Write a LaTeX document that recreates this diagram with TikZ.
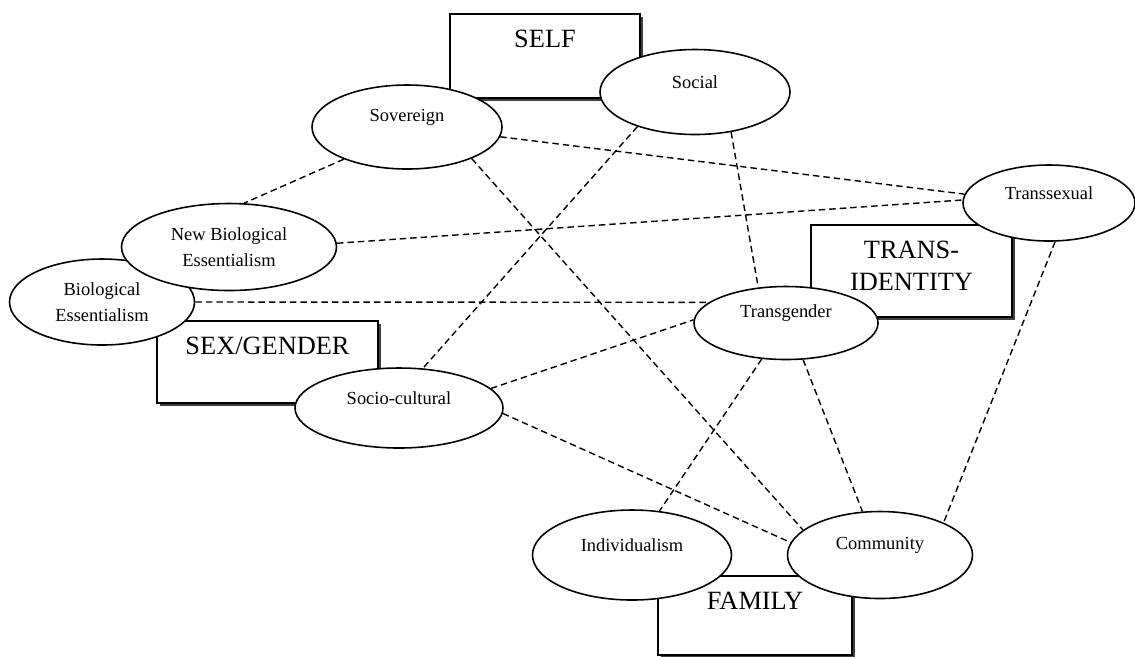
\documentclass[tikz,border=0pt]{standalone}
\usepackage{fontspec}
\setmainfont{Liberation Serif}
\usepackage{tikz}
\usetikzlibrary{shapes, shadows}

\begin{document}
\begin{tikzpicture}[
            box/.style={draw, rectangle, fill=white, line width=0.8pt,
                drop shadow={shadow xshift=0.06cm, shadow yshift=-0.06cm, fill=black!75, opacity=1}},
            boxtext/.style={anchor=north, inner sep=0pt, yshift=-0.32cm, align=center,
                font=\fontsize{15}{18.7}\selectfont},
            oval/.style={draw, ellipse, fill=white, line width=0.9pt, inner sep=0pt, align=center,
                font=\fontsize{10.5}{14.8}\selectfont},
            ovaltext/.style={yshift=0.2cm, font=\fontsize{10.5}{14.8}\selectfont},
            link/.style={line width=0.8pt, dash pattern=on 0.13cm off 0.08cm}]
            \useasboundingbox (0,0) rectangle (22.7,-13.12);

            \node[box, minimum width=3.8cm, minimum height=1.68cm, label={[boxtext]north:SELF}] (self) at (10.9,-1.12) {};
            \node[box, minimum width=4.42cm, minimum height=1.64cm, label={[boxtext]north:SEX/GENDER}] (sexgender) at (5.35,-7.24) {};
            \node[box, minimum width=4.02cm, minimum height=1.84cm, label={[boxtext]north:TRANS-\\IDENTITY}] (transid) at (18.23,-5.42) {};
            \node[box, minimum width=3.88cm, minimum height=1.58cm, label={[boxtext]north:FAMILY}] (family) at (15.1,-12.31) {};

            \node[oval, minimum width=3.8cm, minimum height=1.68cm, label={[ovaltext]center:Sovereign}] (sovereign) at (8.14,-2.54) {};
            \node[oval, minimum width=3.8cm, minimum height=1.7cm, label={[ovaltext]center:Social}] (social) at (13.9,-1.84) {};
            \node[oval, minimum width=3.7cm, minimum height=1.72cm] (bioess) at (2.04,-6.04) {Biological\\Essentialism};
            \node[oval, minimum width=4.3cm, minimum height=1.74cm] (newbio) at (4.58,-4.94) {New Biological\\Essentialism};
            \node[oval, minimum width=4.16cm, minimum height=1.6cm, label={[ovaltext]center:Socio-cultural}] (socio) at (7.98,-8.16) {};
            \node[oval, minimum width=3.68cm, minimum height=1.46cm, label={[ovaltext]center:Transgender}] (transgender) at (15.72,-6.46) {};
            \node[oval, minimum width=3.44cm, minimum height=1.52cm, label={[ovaltext]center:Transsexual}] (transsexual) at (20.98,-4.06) {};
            \node[oval, minimum width=3.98cm, minimum height=1.8cm, label={[ovaltext]center:Individualism}] (individualism) at (12.64,-11.1) {};
            \node[oval, minimum width=3.7cm, minimum height=1.74cm, label={[ovaltext]center:Community}] (community) at (17.6,-11.1) {};

            \draw[link] (sovereign.207) -- (newbio.71);
            \draw[link] (sovereign.354) -- (transsexual.174);
            \draw[link] (sovereign.334) -- (community.162);
            \draw[link] (social.211) -- (socio.59);
            \draw[link] (social.312) -- (transgender.128);
            \draw[link] (newbio.2) -- (transsexual.178);
            \draw[link] (bioess.0) -- (transgender.165);
            \draw[link] (socio.12) -- (transgender.178);
            \draw[link] (socio.357) -- (community.172);
            \draw[link] (transgender.236) -- (individualism.58);
            \draw[link] (transgender.295) -- (community.112);
            \draw[link] (transsexual.279) -- (community.27);
        \end{tikzpicture}
\end{document}
